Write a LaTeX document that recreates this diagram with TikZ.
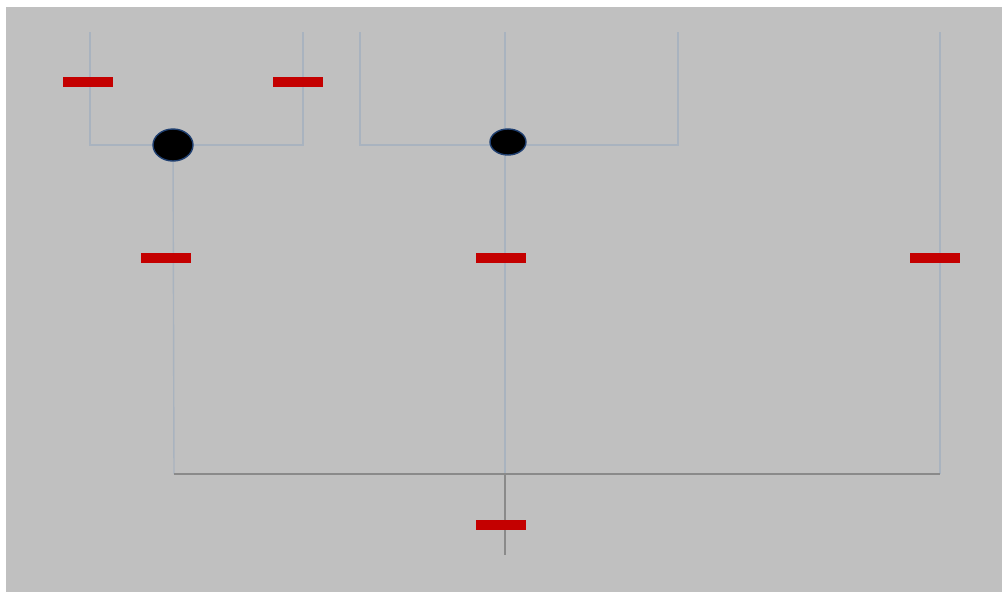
\documentclass[tikz,border=0pt]{standalone}
\usepackage{xcolor}
\usepackage{tikz}
\usetikzlibrary{shapes.geometric,backgrounds}
\definecolor{panelgray}{HTML}{C0C0C0}
\definecolor{wirelight}{HTML}{A9B3BF}
\definecolor{wiredark}{HTML}{8A8A8A}
\definecolor{barred}{HTML}{C40000}
\definecolor{rimblue}{HTML}{1F3F70}

\begin{document}
\begin{tikzpicture}[x=0.02cm, y=-0.02cm,
    bar/.style={fill=barred, draw=none, minimum width=1cm, minimum height=0.2cm, inner sep=0pt},
    joint/.style={ellipse, fill=black, draw=rimblue, line width=0.8pt, inner sep=0pt},
    wire/.style={draw=wirelight, line width=0.8pt},
    bus/.style={draw=wiredark, line width=1pt}
]
\useasboundingbox (0,0) rectangle (1002,592);
% joints and switches
\node[joint, minimum width=0.8cm, minimum height=0.64cm] (j1) at (173,145) {};
\node[joint, minimum width=0.72cm, minimum height=0.52cm] (j2) at (508,142) {};
\node[bar] (s1) at (88,82) {};
\node[bar] (s2) at (298,82) {};
\node[bar] (s3) at (166,258) {};
\node[bar] (s4) at (501,258) {};
\node[bar] (s5) at (935,258) {};
\node[bar] (s6) at (501,525) {};
% corners and ends
\coordinate (a1) at (90,32);
\coordinate (a2) at (90,145);
\coordinate (a3) at (303,145);
\coordinate (a4) at (303,32);
\coordinate (b1) at (360,32);
\coordinate (b2) at (360,145);
\coordinate (b3) at (678,145);
\coordinate (b4) at (678,32);
\coordinate (c1) at (505,32);
\coordinate (c2) at (505,474);
\coordinate (c3) at (505,555);
\coordinate (d1) at (940,32);
\coordinate (d2) at (940,474);
\coordinate (e1) at (174,474);
\begin{scope}[on background layer]
\fill[white] (0,0) rectangle (1002,592);
\fill[panelgray] (6,7) rectangle (1002,592);
\draw[wire] (a1) -- (a2) -- (a3) -- (a4);
\draw[wire] (b1) -- (b2) -- (b3) -- (b4);
\draw[wire] (c1) -- (c2);
\draw[wire] (d1) -- (d2);
\draw[wire] (j1) -- (e1);
\draw[bus] (e1) -- (d2);
\draw[bus] (c2) -- (c3);
\end{scope}
\end{tikzpicture}
\end{document}
